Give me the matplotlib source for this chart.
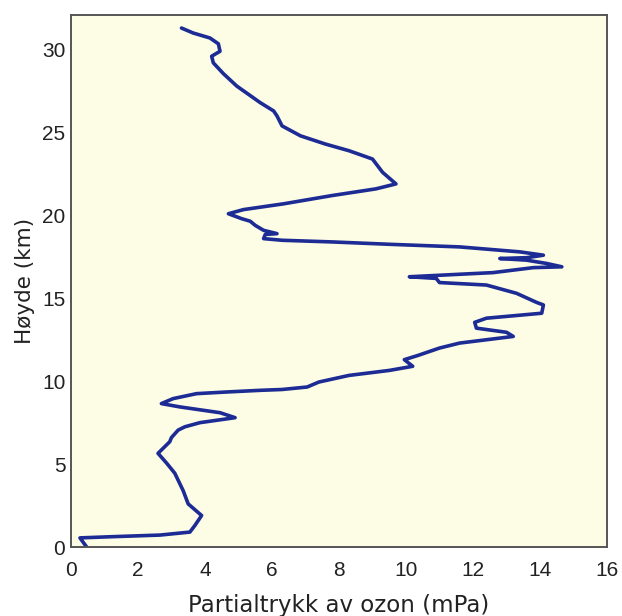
import matplotlib
matplotlib.use("Agg")
import matplotlib.pyplot as plt

plt.rcParams["font.family"] = ["Liberation Sans", "DejaVu Sans"]

# Ozonsonde-profil: partialtrykk (mPa) mot høyde (km), lest av bildet
ozon = [0.47, 0.27, 1.2, 2.66, 3.55, 3.7, 3.9, 3.5, 3.35, 3.1, 2.86, 2.6,
        2.75, 2.95, 3.0, 3.2, 3.4, 3.85, 4.9, 4.45, 3.25, 2.7, 3.05, 3.75,
        4.65, 5.65, 6.3, 7.05, 7.4, 8.3, 9.5, 10.2, 9.95, 10.35, 11.0,
        11.6, 13.2, 13.0, 12.1, 12.05, 12.4, 14.05, 14.1, 13.9, 13.3,
        12.4, 11.0, 10.9, 10.1, 11.1, 12.6, 13.8, 14.65, 14.2, 13.6, 12.8,
        13.6, 14.1, 13.4, 11.6, 9.6, 7.8, 6.3, 5.75, 5.8, 6.15, 5.75, 5.5,
        5.35, 5.1, 4.7, 5.15, 6.35, 7.8, 9.1, 9.7, 9.3, 9.0, 8.3, 7.6,
        6.85, 6.3, 6.15, 6.05, 5.65, 4.95, 4.55, 4.25, 4.2, 4.45, 4.4,
        4.15, 3.65, 3.3]
hoyde = [0.0, 0.55, 0.62, 0.72, 0.9, 1.3, 1.9, 2.6, 3.4, 4.45, 5.05, 5.65,
         5.95, 6.35, 6.6, 7.05, 7.25, 7.5, 7.8, 8.1, 8.45, 8.65, 8.95, 9.25,
         9.35, 9.45, 9.5, 9.65, 9.95, 10.35, 10.65, 10.9, 11.3, 11.55, 12.0,
         12.3, 12.7, 12.95, 13.2, 13.55, 13.8, 14.1, 14.6, 14.75, 15.3,
         15.8, 15.95, 16.2, 16.3, 16.4, 16.55, 16.85, 16.9, 17.1, 17.3, 17.4,
         17.45, 17.6, 17.8, 18.1, 18.25, 18.4, 18.5, 18.6, 18.85, 18.9, 19.1,
         19.4, 19.65, 19.8, 20.1, 20.35, 20.7, 21.2, 21.6, 21.9, 22.6, 23.4,
         23.9, 24.3, 24.8, 25.4, 26.0, 26.3, 26.8, 27.8, 28.55, 29.2, 29.6,
         29.9, 30.35, 30.7, 31.0, 31.3]

xticks = [0, 2, 4, 6, 8, 10, 12, 14, 16]
yticks = [0, 5, 10, 15, 20, 25, 30]

fig = plt.figure(figsize=(6.22, 6.16), dpi=100)
ax = fig.add_axes([0.114, 0.112, 0.862, 0.864])
ax.set_facecolor("#fdfce4")

ax.plot(ozon, hoyde, color="#1d2b95", linewidth=2.6,
        solid_joinstyle="round", solid_capstyle="round")

ax.set_xlim(0, 16)
ax.set_ylim(0, 32.1)
ax.set_xticks(xticks)
ax.set_yticks(yticks)
ax.tick_params(axis="both", length=0, labelsize=15, colors="#222222")
ax.tick_params(axis="x", pad=10)
ax.tick_params(axis="y", pad=4)

for s in ax.spines.values():
    s.set_color("#555555")
    s.set_linewidth(1.4)

# etikettene er bredere i originalen, DejaVu Sans ligner mer
ax.set_xlabel("Partialtrykk av ozon (mPa)", fontsize=16.5, color="#222222",
              family="DejaVu Sans", labelpad=10)
ax.set_ylabel("Høyde (km)", fontsize=15.5, color="#222222",
              family="DejaVu Sans", labelpad=5)

fig.savefig("out.png", dpi=100)
